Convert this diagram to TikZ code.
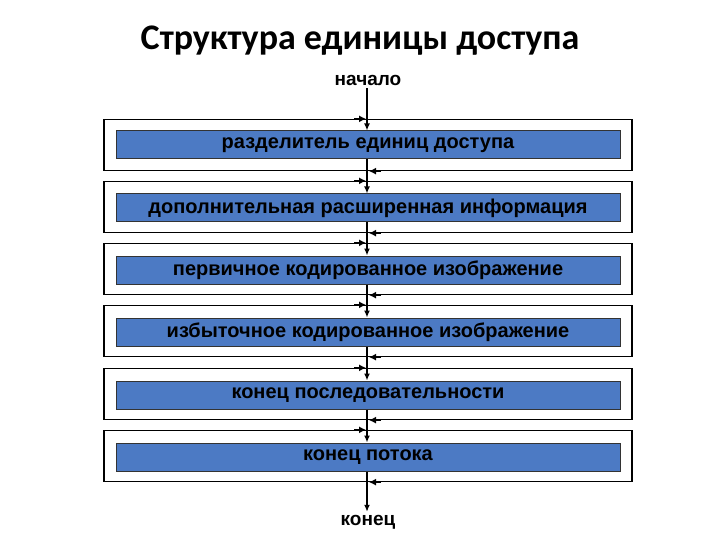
\documentclass[tikz,border=0pt]{standalone}
\usepackage{fontspec}
\setmainfont{Liberation Sans}
\newfontfamily\titlefont{Carlito}
\usetikzlibrary{arrows.meta, positioning}
\definecolor{boxblue}{RGB}{76,122,196}

\tikzset{
    outerbox/.style={draw=black, line width=1.3pt, fill=white, minimum width=528pt, minimum height=51pt},
    innerbox/.style={draw=black!80, line width=1pt, fill=boxblue, minimum width=504pt, minimum height=28pt,
        inner sep=0pt, font=\fontsize{20}{22}\selectfont\bfseries},
    endtext/.style={inner sep=3pt, font=\fontsize{19}{21}\selectfont\bfseries},
    flow/.style={line width=1.6pt, -{Latex[length=7pt,width=6pt]}},
    tip/.style={line width=1.2pt, -{Latex[length=7pt,width=7pt]}}
}

\begin{document}
\begin{tikzpicture}[x=1pt, y=-1pt]
    % page frame
    \useasboundingbox (0,0) rectangle (720,540);

    % Title
    \node (title) at (360,41) {\titlefont\fontsize{36}{40}\selectfont\bfseries Структура единицы доступа};
    \node[endtext] (start) at (368,80) {начало};
    \node[endtext] (end) at (368,522) {конец};

    % Outer boxes
    \node[outerbox] (o1) at (368,145) {};
    \node[outerbox] (o2) at (368,207) {};
    \node[outerbox] (o3) at (368,269) {};
    \node[outerbox] (o4) at (368,331) {};
    \node[outerbox] (o5) at (368,394) {};
    \node[outerbox] (o6) at (368,456) {};

    % Inner boxes
    \node[innerbox] (b1) at (368,145) {разделитель единиц доступа};
    \node[innerbox] (b2) at (368,208) {дополнительная расширенная информация};
    \node[innerbox] (b3) at (368,270) {первичное кодированное изображение};
    \node[innerbox] (b4) at (368,332) {избыточное кодированное изображение};
    \node[innerbox] (b5) at (368,395) {конец последовательности};
    \node[innerbox] (b6) at (368,457) {конец потока};

    % Main line through the boxes
    \draw[flow] (start.south -| 367,0) -- (b1.north -| 367,0);
    \draw[flow] (b1.south -| 367,0) -- (b2.north -| 367,0);
    \draw[flow] (b2.south -| 367,0) -- (b3.north -| 367,0);
    \draw[flow] (b3.south -| 367,0) -- (b4.north -| 367,0);
    \draw[flow] (b4.south -| 367,0) -- (b5.north -| 367,0);
    \draw[flow] (b5.south -| 367,0) -- (b6.north -| 367,0);
    \draw[flow] (b6.south -| 367,0) -- (end.north -| 367,0);

    % Small arrow tips on the outer frames
    \foreach \o in {o1,o2,o3,o4,o5,o6} {
        \draw[tip] (\o.north -| 354,0) -- (\o.north -| 366,0);
        \draw[tip] (\o.south -| 381,0) -- (\o.south -| 369,0);
    }
\end{tikzpicture}
\end{document}
